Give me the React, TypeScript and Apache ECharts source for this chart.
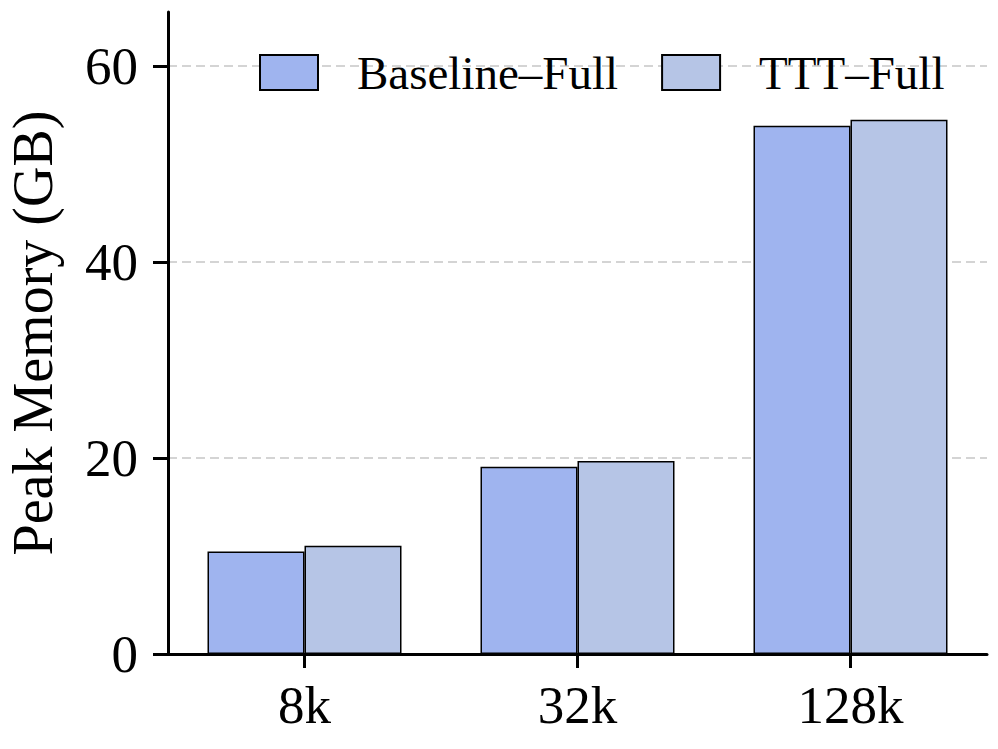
import React, { useEffect, useRef } from "react";
import * as echarts from "echarts";

const categories = ["8k", "32k", "128k"];
const seriesNames = ["Baseline–Full", "TTT–Full"];
const baselineValues = [10.45, 19.1, 53.9];
const tttValues = [11.05, 19.7, 54.5];
const yTickValues = [0, 20, 40, 60];
const yMax = 65.5;

const FONT = '"Liberation Serif", "DejaVu Serif", "Times New Roman", serif';

export default function App() {
  const ref = useRef<HTMLDivElement>(null);
  useEffect(() => {
    document.body.style.margin = "0";
    const chart = echarts.init(ref.current!, null, { renderer: "svg" });
    const colors = ["#9fb4ef", "#b6c5e6"];
    chart.setOption({
      animation: false,
      backgroundColor: "#ffffff",
      textStyle: { fontFamily: FONT },
      grid: { left: 168, right: 11, top: 12, bottom: 95, containLabel: false, outerBoundsMode: "none" },
      legend: {
        data: seriesNames,
        left: 254,
        top: 44,
        itemWidth: 58,
        itemHeight: 35,
        itemGap: 43,
        icon: "rect",
        textStyle: {
          fontFamily: FONT,
          fontSize: 47,
          color: "#000",
          padding: [0, 0, 0, 34],
        },
      },
      xAxis: {
        type: "category",
        data: categories,
        axisLine: { lineStyle: { color: "#000", width: 3 } },
        axisTick: { show: true, alignWithLabel: true, length: 14, lineStyle: { color: "#000", width: 3 } },
        axisLabel: { fontFamily: FONT, fontSize: 53, color: "#000", margin: 24 },
        splitLine: { show: false },
      },
      yAxis: {
        type: "value",
        min: 0,
        max: yMax,
        interval: 20,
        name: "Peak Memory (GB)",
        nameLocation: "middle",
        nameGap: 107,
        nameTextStyle: { fontFamily: FONT, fontSize: 56, color: "#000" },
        axisLine: { show: true, lineStyle: { color: "#000", width: 3 } },
        axisTick: { show: true, length: 15, customValues: yTickValues, lineStyle: { color: "#000", width: 3 } },
        axisLabel: { fontFamily: FONT, fontSize: 53, color: "#000", margin: 30, customValues: yTickValues },
        splitLine: { show: true, lineStyle: { color: "#d4d4d4", width: 2, type: [9, 5] } },
      },
      series: [
        {
          name: seriesNames[0],
          type: "bar",
          data: baselineValues,
          barWidth: 97,
          barGap: "0%",
          itemStyle: { color: colors[0], borderColor: "#000", borderWidth: 1.5 },
        },
        {
          name: seriesNames[1],
          type: "bar",
          data: tttValues,
          barWidth: 97,
          barGap: "0%",
          itemStyle: { color: colors[1], borderColor: "#000", borderWidth: 1.5 },
        },
      ],
    });
    return () => chart.dispose();
  }, []);
  return <div ref={ref} style={{ width: 998, height: 749 }} />;
}
